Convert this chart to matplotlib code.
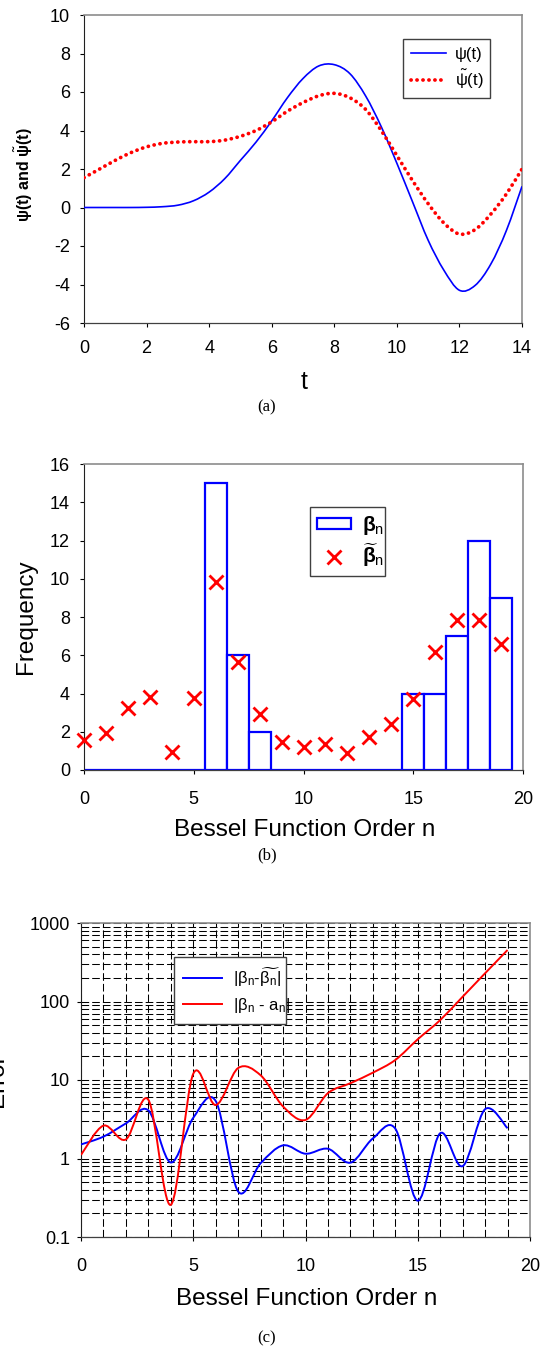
import numpy as np
import matplotlib
matplotlib.use('Agg')
import matplotlib.pyplot as plt
from matplotlib.path import Path
from matplotlib.patches import PathPatch, Rectangle
from matplotlib.lines import Line2D
from matplotlib.ticker import MultipleLocator, FixedLocator, NullFormatter, FuncFormatter

plt.rcParams['font.family'] = ['Liberation Sans', 'DejaVu Sans']
plt.rcParams['mathtext.fontset'] = 'custom'
plt.rcParams['mathtext.rm'] = 'Liberation Sans'
plt.rcParams['mathtext.it'] = 'Liberation Sans:italic'
plt.rcParams['mathtext.bf'] = 'Liberation Sans:bold'
plt.rcParams['lines.scale_dashes'] = False
plt.rcParams['axes.unicode_minus'] = False

# ---------------- data ----------------
# panel (a)
t_psi = [0, 0.5, 1, 1.5, 2, 2.5, 3, 3.5, 4, 4.5, 5, 5.5, 6, 6.5, 7, 7.5, 8,
         8.5, 9, 9.5, 10, 10.5, 11, 11.5, 12, 12.5, 13, 13.5, 14]
psi = [0, 0, 0, 0, 0.01, 0.04, 0.12, 0.35, 0.8, 1.5, 2.45, 3.4, 4.5, 5.7, 6.7, 7.35, 7.42,
       6.95, 5.8, 4.2, 2.3, 0.3, -1.7, -3.25, -4.3, -4.05, -2.95, -1.2, 1.1]
t_psi_tilde = [0, 0.5, 1, 1.5, 2, 2.5, 3, 3.5, 4, 4.5, 5, 5.5, 6, 6.5, 7, 7.5, 8,
               8.5, 9, 9.5, 10, 10.5, 11, 11.5, 12, 12.5, 13, 13.5, 14]
psi_tilde = [1.55, 2.0, 2.45, 2.85, 3.15, 3.33, 3.4, 3.42, 3.42, 3.5, 3.7, 4.0, 4.45, 5.0,
             5.45, 5.8, 5.93, 5.7, 5.1, 4.0, 2.7, 1.4, 0.2, -0.8, -1.38, -1.15, -0.35,
             0.7, 2.0]

# panel (b)
orders = list(range(20))
beta = [0, 0, 0, 0, 0, 0, 15, 6, 2, 0, 0, 0, 0, 0, 0, 4, 4, 7, 12, 9]
beta_tilde = [1.57, 1.95, 3.26, 3.83, 0.92, 3.78, 9.84, 5.66, 2.93, 1.48,
              1.18, 1.36, 0.9, 1.74, 2.39, 3.73, 6.15, 7.84, 7.84, 6.59]

# panel (c)
err_tilde = [1.51, 1.9, 2.8, 4.1, 0.89, 3.3, 5.4, 0.38, 0.87, 1.47,
             1.15, 1.33, 0.885, 1.8, 2.4, 0.29, 2.1, 0.8, 4.25, 2.43]
err_a = [1.11, 2.62, 1.75, 5.6, 0.257, 12.0, 4.8, 14.2, 11.5, 4.6,
         3.1, 6.8, 9.1, 12.4, 18.0, 33, 58, 115, 229, 453]

# ---------------- figure ----------------
W_PX, H_PX = 542, 1351
fig = plt.figure(figsize=(W_PX / 100, H_PX / 100), dpi=100)
TICK_FS = 13


def add_axes_px(left, top, right, bottom):
    return fig.add_axes([left / W_PX, 1 - bottom / H_PX,
                         (right - left) / W_PX, (bottom - top) / H_PX])


def legend_anchor(left, top, width):
    return (left / W_PX, 1 - top / H_PX - 0.01, width / W_PX, 0.01)


def style_axes(ax, xpad, ypad):
    ax.spines['top'].set_color('#8c8c8c')
    ax.spines['right'].set_color('#8c8c8c')
    ax.spines['top'].set_linewidth(1.2)
    ax.spines['right'].set_linewidth(1.2)
    ax.spines['left'].set_color('#202020')
    ax.spines['bottom'].set_color('#404040')
    ax.spines['left'].set_linewidth(0.8)
    ax.spines['bottom'].set_linewidth(0.9)
    ax.tick_params(axis='both', which='major', direction='out', length=3,
                   width=0.8, labelsize=TICK_FS, colors='black')
    ax.tick_params(axis='x', pad=xpad)
    ax.tick_params(axis='y', pad=ypad)
    ax.tick_params(top=False, right=False)


def smooth_patch(ax, x, y, logy=False, **kw):
    x = np.asarray(x, float)
    y = np.asarray(y, float)
    x0, x1 = ax.get_xlim()
    y0, y1 = ax.get_ylim()
    bb = ax.get_position()
    Wd = bb.width * fig.get_figwidth()
    Hd = bb.height * fig.get_figheight()
    if logy:
        Y = np.log10(y)
        Y0, Y1 = np.log10(y0), np.log10(y1)
    else:
        Y = y
        Y0, Y1 = y0, y1
    P = np.column_stack([x * Wd / (x1 - x0), Y * Hd / (Y1 - Y0)])
    n = len(P)
    verts = [P[0]]
    codes = [Path.MOVETO]
    for i in range(n - 1):
        p0 = P[i - 1] if i > 0 else P[i]
        p1 = P[i]
        p2 = P[i + 1]
        p3 = P[i + 2] if i + 2 < n else P[i + 1]
        c1 = p1 + (p2 - p0) / 6.0
        c2 = p2 - (p3 - p1) / 6.0
        verts += [c1, c2, p2]
        codes += [Path.CURVE4] * 3
    V = np.array(verts)
    vx = V[:, 0] * (x1 - x0) / Wd
    vy = V[:, 1] * (Y1 - Y0) / Hd
    if logy:
        vy = 10 ** vy
    patch = PathPatch(Path(np.column_stack([vx, vy]), codes), fill=False, **kw)
    ax.add_patch(patch)
    return patch


def ftext(xp, yp, s, **kw):
    fig.text(xp / W_PX, 1 - yp / H_PX, s, ha='center', va='center', **kw)


DOTS = (0, (0.1, 4.2))

# ---------------- panel (a) ----------------
axA = add_axes_px(84, 15, 522, 323)
axA.set_xlim(0, 14)
axA.set_ylim(-6, 10)
axA.set_autoscale_on(False)
axA.xaxis.set_major_locator(MultipleLocator(2))
axA.yaxis.set_major_locator(MultipleLocator(2))
style_axes(axA, xpad=9, ypad=7)
smooth_patch(axA, t_psi, psi, color='#0000ff', lw=1.2, zorder=3)
smooth_patch(axA, t_psi_tilde, psi_tilde, color='#ff0000', lw=2.7,
             linestyle=DOTS, capstyle='round', zorder=4)
hA = [Line2D([], [], color='#0000ff', lw=1.2),
      Line2D([], [], color='#ff0000', lw=2.7, linestyle=DOTS, dash_capstyle='round')]
legA = axA.legend(hA, ['ψ(t)', r'$\tilde{\mathrm{\psi}}\mathrm{(t)}$'],
                  loc='upper left', bbox_to_anchor=legend_anchor(403, 39, 87),
                  bbox_transform=fig.transFigure, mode='expand', borderaxespad=0,
                  fontsize=12, handlelength=2.1, handletextpad=0.55, borderpad=0.45,
                  labelspacing=0.35, fancybox=False, framealpha=1, edgecolor='#404040')
legA.get_frame().set_linewidth(1.0)
ftext(24, 175, r'ψ(t) and $\tilde{\mathbf{\psi}}$(t)', rotation=90, fontsize=11.5,
      fontweight='bold')
ftext(304, 382, 't', fontsize=18)
ftext(267, 407, '(a)', fontsize=12, family=['Liberation Serif', 'DejaVu Serif'])

# ---------------- panel (b) ----------------
axB = add_axes_px(84, 464, 523, 770)
axB.set_xlim(0, 20)
axB.set_ylim(0, 16)
axB.set_autoscale_on(False)
axB.xaxis.set_major_locator(MultipleLocator(5))
axB.yaxis.set_major_locator(MultipleLocator(2))
style_axes(axB, xpad=12, ypad=7)
axB.bar(orders, beta, width=1.0, facecolor='white', edgecolor='#0000ff',
        linewidth=1.6, zorder=2)
axB.plot(orders, beta_tilde, linestyle='none', marker='x', markersize=10,
         markeredgewidth=2.0, color='#ff0000', zorder=4, clip_on=False)
hB = [Rectangle((0, 0), 1, 1, facecolor='white', edgecolor='#0000ff', linewidth=1.6),
      Line2D([], [], linestyle='none', marker='x', markersize=10, markeredgewidth=2.0,
             color='#ff0000')]
legB = axB.legend(hB, [r'$\mathbf{\beta}_\mathrm{n}$', r'$\widetilde{\mathbf{\beta}}_\mathrm{n}$'],
                  loc='upper left', bbox_to_anchor=legend_anchor(310, 507, 75),
                  bbox_transform=fig.transFigure, mode='expand', borderaxespad=0,
                  fontsize=15, handlelength=1.6, handleheight=0.45, handletextpad=0.55,
                  borderpad=0.35, labelspacing=0.2, fancybox=False, framealpha=1,
                  edgecolor='#404040')
legB.get_frame().set_linewidth(1.0)
ftext(26, 617, 'Frequency', rotation=90, fontsize=17.5)
ftext(305, 830, 'Bessel Function Order n', fontsize=17.5)
ftext(267, 855, '(b)', fontsize=12, family=['Liberation Serif', 'DejaVu Serif'])

# ---------------- panel (c) ----------------
axC = add_axes_px(81, 923, 530, 1237)
axC.set_yscale('log')
axC.set_xlim(0, 20)
axC.set_ylim(0.1, 1000)
axC.set_autoscale_on(False)
axC.xaxis.set_major_locator(MultipleLocator(5))
axC.xaxis.set_minor_locator(MultipleLocator(1))
axC.yaxis.set_major_locator(FixedLocator([0.1, 1, 10, 100, 1000]))
minor_y = [m * 10.0 ** e for e in range(-1, 3) for m in range(2, 10)]
axC.yaxis.set_minor_locator(FixedLocator(minor_y))
axC.yaxis.set_major_formatter(FuncFormatter(lambda v, p: '%g' % v))
axC.yaxis.set_minor_formatter(NullFormatter())
style_axes(axC, xpad=12, ypad=5)
axC.tick_params(axis='both', which='minor', length=0)
axC.grid(True, which='both', axis='both', color='#000000', linewidth=0.75,
         linestyle=(0, (5.5, 2.2)), zorder=1)
axC.set_axisbelow(True)
smooth_patch(axC, orders, err_tilde, logy=True, color='#0000ff', lw=1.4, zorder=3)
smooth_patch(axC, orders, err_a, logy=True, color='#ff0000', lw=1.4, zorder=4)
hC = [Line2D([], [], color='#0000ff', lw=1.4), Line2D([], [], color='#ff0000', lw=1.4)]
legC = axC.legend(hC, [r'|$\mathrm{\beta}_\mathrm{n}$-$\widetilde{\mathrm{\beta}_\mathrm{n}}$|',
                       r'|$\mathrm{\beta}_\mathrm{n}$ - a$_\mathrm{n}$|'],
                  loc='upper left', bbox_to_anchor=legend_anchor(174, 957, 112),
                  bbox_transform=fig.transFigure, mode='expand', borderaxespad=0,
                  fontsize=12, handlelength=2.3, handletextpad=0.7, borderpad=0.55,
                  labelspacing=0.4, fancybox=False, framealpha=1, edgecolor='#404040')
legC.get_frame().set_linewidth(1.0)
legC.set_zorder(10)
ftext(-3, 1080, 'Error', rotation=90, fontsize=17.5)
ftext(307, 1299, 'Bessel Function Order n', fontsize=17.5)
ftext(267, 1338, '(c)', fontsize=12, family=['Liberation Serif', 'DejaVu Serif'])

fig.savefig('out.png', dpi=100, facecolor='white')
